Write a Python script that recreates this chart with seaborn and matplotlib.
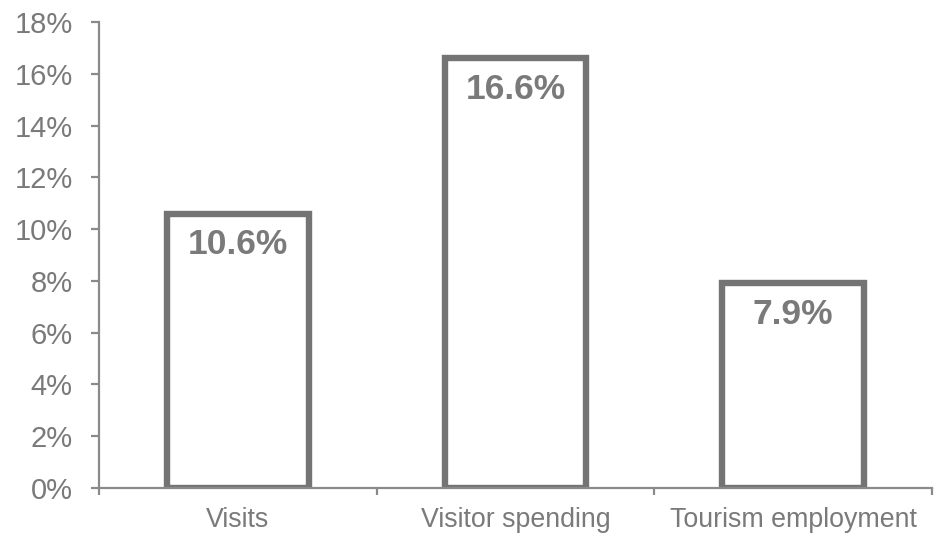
import matplotlib
matplotlib.use("Agg")
import matplotlib.pyplot as plt
import seaborn as sns
import pandas as pd
from matplotlib.ticker import FuncFormatter, FixedLocator

categories = ["Visits", "Visitor spending", "Tourism employment"]
growth_pct = [10.6, 16.6, 7.9]
y_ticks = [0, 2, 4, 6, 8, 10, 12, 14, 16, 18]

df = pd.DataFrame({"category": categories, "growth": growth_pct})

sns.set_style("white")
plt.rcParams["font.family"] = ["Liberation Sans", "DejaVu Sans"]

GREY = "#7a7a7a"
EDGE = "#747474"
AXIS = "#8a8a8a"

fig = plt.figure(figsize=(9.35, 5.33), dpi=100)
ax = fig.add_axes([0.1059, 0.0844, 0.8909, 0.8743])

sns.barplot(data=df, x="category", y="growth", ax=ax, color="white",
            edgecolor=EDGE, linewidth=4.6, width=0.51, saturation=1)

ax.set_xlim(-0.5, 2.5)
ax.set_ylim(0, 18)
ax.set_yticks(y_ticks)
ax.yaxis.set_major_formatter(FuncFormatter(lambda v, _: f"{v:.0f}%"))
ax.set_xlabel("")
ax.set_ylabel("")

for spine in ("top", "right"):
    ax.spines[spine].set_visible(False)
for spine in ("left", "bottom"):
    ax.spines[spine].set_color(AXIS)
    ax.spines[spine].set_linewidth(1.6)

ax.tick_params(axis="y", which="major", direction="out", length=6, width=1.6,
               color=AXIS, labelcolor=GREY, labelsize=21, pad=13, left=True)
ax.tick_params(axis="x", which="major", length=0, labelcolor=GREY,
               labelsize=19.3, pad=13.5)
ax.xaxis.set_minor_locator(FixedLocator([-0.5, 0.5, 1.5, 2.5]))
ax.tick_params(axis="x", which="minor", direction="out", length=5, width=1.6,
               color=AXIS, bottom=True)

for i, v in enumerate(growth_pct):
    ax.text(i, v - 1.2, f"{v}%", ha="center", va="center",
            fontsize=25.5, fontweight="bold", color=GREY)

fig.savefig("out.png", dpi=100)
